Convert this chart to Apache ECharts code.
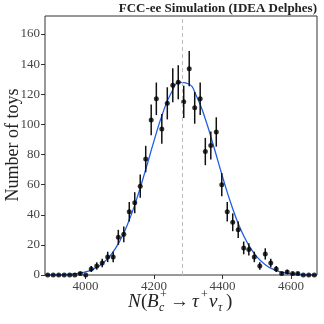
<!DOCTYPE html>
<html>
<head>
<meta charset="utf-8">
<script src="https://cdn.jsdelivr.net/npm/echarts@6/dist/echarts.min.js"></script>
<style>
html, body { margin: 0; padding: 0; background: #fff; }
#chart { width: 324px; height: 324px; }
</style>
</head>
<body>
<div id="chart"></div>
<script>
// toy yield histogram (50 bins)
var binCenters = [3890, 3906, 3922, 3938, 3954, 3969, 3985, 4001, 4017, 4033,
                  4049, 4065, 4081, 4096, 4112, 4128, 4144, 4160, 4176, 4192,
                  4207, 4223, 4239, 4255, 4271, 4287, 4303, 4319, 4335, 4350,
                  4366, 4382, 4398, 4414, 4430, 4446, 4462, 4477, 4493, 4509,
                  4525, 4541, 4557, 4573, 4589, 4605, 4620, 4636, 4652, 4668];
var counts = [0, 0, 0, 0, 0, 0, 1, 0, 4, 6,
              8, 12, 12, 25, 27, 42, 48, 59, 77, 103,
              117, 97, 114, 126, 128, 115, 137, 111, 117, 82,
              86, 95, 60, 42, 35, 30, 18, 17, 12, 6,
              14, 8, 4, 1, 2, 1, 1, 0, 0, 0];

// gaussian fit
var fitX = [3882, 3900, 3950, 4000, 4025, 4050, 4075, 4100, 4125, 4150, 4175, 4200,
            4225, 4250, 4275, 4300, 4325, 4350, 4375, 4400, 4425, 4450,
            4475, 4500, 4525, 4550, 4575, 4600, 4650, 4676];
var fitY = [0.0, 0.1, 0.4, 2.0, 4.1, 7.7, 13.5, 22.4, 34.8, 50.7, 69.3, 88.9,
            107, 120.7, 127.9, 127, 118.4, 103.6, 85, 65.4, 47.3, 32,
            20.4, 12.2, 6.8, 3.6, 1.8, 0.8, 0.1, 0.0];

var trueYield = 4283;
var xTicks = [4000, 4200, 4400, 4600];
var yTicks = [0, 20, 40, 60, 80, 100, 120, 140, 160];

var FONT = 'Liberation Serif';
var AXIS_COLOR = '#333';

var points = binCenters.map(function (x, i) {
    return [x, counts[i], Math.sqrt(counts[i])];
});
var curve = fitX.map(function (x, i) { return [x, fitY[i]]; });

var chart = echarts.init(document.getElementById('chart'), null, { renderer: 'canvas' });

function piece(text, x, y, size, italic, extra) {
    var el = {
        type: 'text',
        x: x, y: y,
        style: {
            text: text,
            font: (italic ? 'italic ' : '') + size + 'px "' + FONT + '"',
            fill: '#222',
            verticalAlign: 'middle'
        }
    };
    if (extra) {
        for (var k in extra) el[k] = extra[k];
    }
    return el;
}

// title, y label and x label N(B_c^+ -> tau^+ nu_tau)
var texts = [
    {
        type: 'text', x: 317, y: 9,
        style: { text: 'FCC-ee Simulation (IDEA Delphes)', font: 'bold 13px "' + FONT + '"',
                 fill: '#222', align: 'right', verticalAlign: 'middle' }
    },
    {
        type: 'text', x: 13, y: 145, rotation: Math.PI / 2,
        style: { text: 'Number of toys', font: '18px "' + FONT + '"',
                 fill: '#222', align: 'center', verticalAlign: 'middle' }
    },
    piece('N', 128, 302, 19, true),
    piece('(', 141, 302, 19, false),
    piece('B', 147, 302, 19, true),
    piece('+', 160, 295, 12, false),
    piece('c', 159, 308, 12, true),
    piece('\u2192', 170, 302, 19, false),
    piece('\u03c4', 192, 302, 19, true),
    piece('+', 201, 295, 12, false),
    piece('\u03bd', 209, 302, 19, true),
    piece('\u03c4', 218, 308, 12, true),
    piece(')', 226, 302, 19, false)
];

function plain(v) { return String(v); }

var option = {
    animation: false,
    backgroundColor: '#fff',
    textStyle: { fontFamily: FONT },
    grid: {
        left: 45, right: 7, top: 16, bottom: 49,
        show: true, borderColor: AXIS_COLOR, borderWidth: 1,
        outerBoundsMode: 'none'
    },
    xAxis: {
        type: 'value',
        min: 3882, max: 4676,
        axisLine: { show: false },
        splitLine: { show: false },
        axisTick: { show: true, length: 4, inside: false, customValues: xTicks,
                    lineStyle: { color: AXIS_COLOR } },
        axisLabel: { customValues: xTicks, formatter: plain, color: '#444', fontSize: 13,
                     margin: 5, fontFamily: FONT }
    },
    yAxis: {
        type: 'value',
        min: 0, max: 172,
        axisLine: { show: false },
        splitLine: { show: false },
        axisTick: { show: true, length: 4, customValues: yTicks,
                    lineStyle: { color: AXIS_COLOR } },
        axisLabel: { customValues: yTicks, formatter: plain, color: '#444', fontSize: 13,
                     margin: 5, fontFamily: FONT }
    },
    graphic: texts,
    series: [
        {
            type: 'line',
            data: curve,
            smooth: true,
            showSymbol: false,
            z: 2,
            lineStyle: { color: '#1f5fe8', width: 1.3 },
            markLine: {
                silent: true,
                symbol: 'none',
                label: { show: false },
                lineStyle: { color: '#bbb', type: [4, 3], width: 1 },
                data: [{ xAxis: trueYield }]
            }
        },
        {
            type: 'custom',
            z: 3,
            data: points,
            renderItem: function (params, api) {
                var x = api.value(0), y = api.value(1), e = api.value(2);
                if (!e) return null;
                var lo = api.coord([x, y - e]);
                var hi = api.coord([x, y + e]);
                return {
                    type: 'line',
                    shape: { x1: lo[0], y1: lo[1], x2: hi[0], y2: hi[1] },
                    style: { stroke: '#111', lineWidth: 1.5 }
                };
            }
        },
        {
            type: 'scatter',
            data: points,
            z: 4,
            symbol: 'circle',
            symbolSize: 5,
            itemStyle: { color: '#000' }
        }
    ]
};

chart.setOption(option);
</script>
</body>
</html>
